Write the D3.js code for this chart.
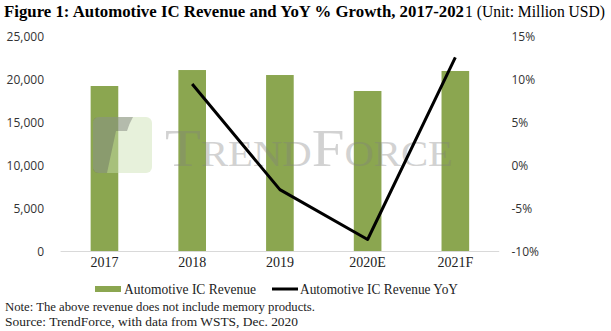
<!DOCTYPE html>
<html><head><meta charset="utf-8">
<script src="https://cdn.jsdelivr.net/npm/d3@7"></script>
<style>body{margin:0;background:#fff}svg{display:block}</style>
</head><body>
<svg id="c" width="611" height="331"></svg>
<script>
const categories = ["2017","2018","2019","2020E","2021F"];
const revenue = [19270, 21130, 20550, 18690, 21020];
const yoyCats = ["2018","2019","2020E","2021F"];
const yoy = [9.5, -2.8, -8.6, 12.6];
const leftTicks = [0,5000,10000,15000,20000,25000];
const rightTicks = [-10,-5,0,5,10,15];

const svg = d3.select("#c");
const x = d3.scaleBand().domain(categories).range([60.6,499.2]).paddingInner(0.685).paddingOuter(0.3425);
const yL = d3.scaleLinear().domain([0,25000]).range([251.5,36.8]);
const yR = d3.scaleLinear().domain([-10,15]).range([251.5,36.8]);
const serif = "'Liberation Serif','DejaVu Serif',serif";
const sans = "'Open Sans','Liberation Sans',sans-serif";

// title
svg.append("text").attr("x",4).attr("y",17).attr("font-family",serif).attr("font-size",16.5).attr("font-weight","bold")
  .attr("textLength",460).attr("lengthAdjust","spacingAndGlyphs").attr("fill","#000")
  .text("Figure 1: Automotive IC Revenue and YoY % Growth, 2017-202");
svg.append("text").attr("x",465).attr("y",17).attr("font-family",serif).attr("font-size",16)
  .attr("textLength",140).attr("lengthAdjust","spacingAndGlyphs").attr("fill","#000")
  .text("1 (Unit: Million USD)");

// bars
svg.append("g").selectAll("rect").data(categories).join("rect")
  .attr("x",d=>x(d)).attr("width",x.bandwidth())
  .attr("y",(d,i)=>yL(revenue[i])).attr("height",(d,i)=>yL(0)-yL(revenue[i]))
  .attr("fill","#8ba650");

// watermark
const wm = svg.append("g");
wm.append("rect").attr("x",93).attr("y",117).attr("width",59).attr("height",56).attr("rx",6)
  .attr("fill","#c9e0b0").attr("opacity",0.45);
wm.append("path").attr("d","M99,117 L133,117 Q129,124 127,131 L116,131 L107,173 L99,173 Q93,173 93,167 L93,123 Q93,117 99,117 Z")
  .attr("fill","#555").attr("opacity",0.35);
wm.append("text").attr("x",165).attr("y",166).attr("font-family",serif).attr("font-size",52)
  .attr("fill","#808080").attr("opacity",0.35).attr("textLength",288).attr("lengthAdjust","spacingAndGlyphs")
  .style("font-variant","small-caps").text("TrendForce");

// baseline
svg.append("line").attr("x1",60.6).attr("x2",499.2).attr("y1",251.5).attr("y2",251.5).attr("stroke","#d9d9d9").attr("stroke-width",1);

// line
const line = d3.line().x((d,i)=>x(yoyCats[i])+x.bandwidth()/2).y(d=>yR(d));
svg.append("path").datum(yoy).attr("d",line).attr("fill","none").attr("stroke","#000").attr("stroke-width",3).attr("stroke-linejoin","round");

// left axis
const aL = svg.append("g").attr("transform","translate(44,0)")
  .call(d3.axisLeft(yL).tickValues(leftTicks).tickSize(0).tickPadding(0).tickFormat(d3.format(",")));
aL.select(".domain").remove();
aL.selectAll("text").attr("font-family",sans).attr("font-size",12).attr("fill","#333");

// right axis
const aR = svg.append("g").attr("transform","translate(511.5,0)")
  .call(d3.axisRight(yR).tickValues(rightTicks).tickSize(0).tickPadding(0).tickFormat(d=>d+"%"));
aR.select(".domain").remove();
aR.selectAll("text").attr("font-family",sans).attr("font-size",12).attr("fill","#333");

// x axis
const aX = svg.append("g").attr("transform","translate(0,257.5)")
  .call(d3.axisBottom(x).tickSize(0).tickPadding(0));
aX.select(".domain").remove();
aX.selectAll("text").attr("font-family",serif).attr("font-size",14).attr("fill","#222").attr("dy","0.71em");

// legend
const lg = svg.append("g");
lg.append("rect").attr("x",95).attr("y",286).attr("width",26).attr("height",6).attr("fill","#8ba650");
lg.append("text").attr("x",124).attr("y",293.5).attr("font-family",serif).attr("font-size",14).attr("fill","#222")
  .attr("textLength",132).attr("lengthAdjust","spacingAndGlyphs").text("Automotive IC Revenue");
lg.append("line").attr("x1",272).attr("x2",298).attr("y1",289).attr("y2",289).attr("stroke","#000").attr("stroke-width",3);
lg.append("text").attr("x",300).attr("y",293.5).attr("font-family",serif).attr("font-size",14).attr("fill","#222")
  .attr("textLength",158).attr("lengthAdjust","spacingAndGlyphs").text("Automotive IC Revenue YoY");

// notes
svg.append("text").attr("x",5).attr("y",311).attr("font-family",serif).attr("font-size",12).attr("fill","#222")
  .attr("textLength",310).attr("lengthAdjust","spacingAndGlyphs").text("Note: The above revenue does not include memory products.");
svg.append("text").attr("x",5).attr("y",326).attr("font-family",serif).attr("font-size",12).attr("fill","#222")
  .attr("textLength",293).attr("lengthAdjust","spacingAndGlyphs").text("Source: TrendForce, with data from WSTS, Dec. 2020");
</script>
</body></html>
